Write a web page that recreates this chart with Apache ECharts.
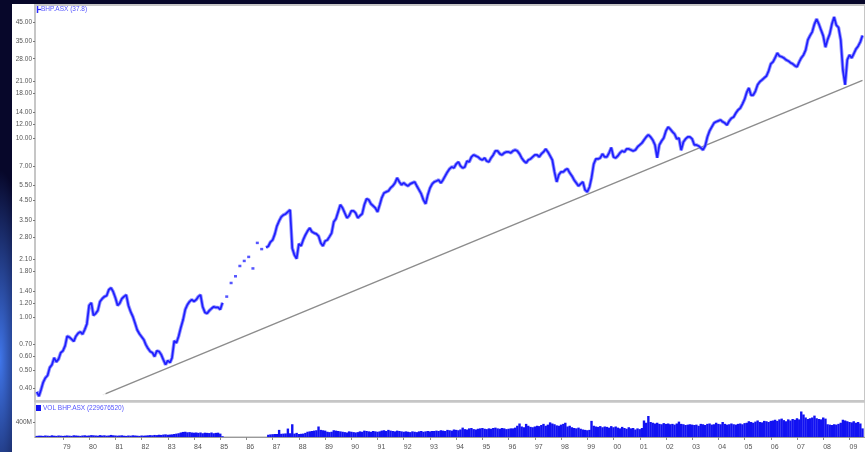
<!DOCTYPE html>
<html>
<head>
<meta charset="utf-8">
<script src="https://cdn.jsdelivr.net/npm/echarts@6/dist/echarts.min.js"></script>
<style>
  html, body { margin: 0; padding: 0; width: 865px; height: 452px; overflow: hidden; }
  body { background: #07072a; position: relative; }
  #glow { position: absolute; left: 0; top: 0; width: 865px; height: 452px;
    background: radial-gradient(ellipse 30px 190px at 0px 360px, rgba(70,130,255,0.9), rgba(7,7,42,0) 100%); }
  #panel { position: absolute; left: 12px; top: 4px; right: 0; bottom: 0; background: #ffffff; }
  #chart { position: absolute; left: 0; top: 0; width: 865px; height: 452px; }
</style>
</head>
<body>
<div id="glow"></div>
<div id="panel"></div>
<div id="chart"></div>
<script>
// Monthly series, first month January 1978
const firstYear = 1978;
const firstMonth = 0;

// Monthly closing prices (A$)
const closes = [
  0.38, 0.36,
  0.39, 0.43, 0.455, 0.47, 0.52, 0.54, 0.59, 0.56, 0.58, 0.63, 0.645, 0.69,
  0.78, 0.77, 0.75, 0.73, 0.78, 0.81, 0.825, 0.80, 0.85, 0.915, 1.16, 1.20,
  1.02, 1.045, 1.085, 1.22, 1.265, 1.30, 1.315, 1.42, 1.455, 1.385, 1.28, 1.16,
  1.19, 1.265, 1.30, 1.33, 1.16, 1.07, 1.005, 0.925, 0.845, 0.805, 0.775, 0.745,
  0.70, 0.665, 0.64, 0.63, 0.60, 0.645, 0.64, 0.615, 0.575, 0.54, 0.57, 0.555,
  0.59, 0.735, 0.715, 0.78, 0.87, 0.96, 1.10, 1.17, 1.22, 1.25, 1.22, 1.25,
  1.30, 1.33, 1.14, 1.06, 1.045, 1.085, 1.115, 1.14, 1.13, 1.13, 1.10, 1.20,
  null, 1.30, null, 1.55, null, 1.69, null, 1.93, null, 2.06, null, 2.17,
  null, 1.87, null, 2.60, null, 2.40, null, 2.45, 2.49, 2.63, 2.70, 2.92,
  3.23, 3.45, 3.64, 3.73, 3.78, 3.88, 3.98, 2.43, 2.22, 2.12, 2.57, 2.50,
  2.70, 2.88, 3.03, 3.15, 3.00, 2.95, 2.92, 2.84, 2.60, 2.50, 2.665, 2.70,
  2.81, 2.95, 3.41, 3.55, 3.88, 4.25, 4.08, 3.83, 3.59, 3.69, 3.93, 3.93,
  3.83, 3.59, 3.69, 3.78, 4.25, 4.59, 4.53, 4.30, 4.19, 4.08, 3.88, 4.25,
  4.65, 4.95, 5.02, 5.08, 5.28, 5.42, 5.64, 6.01, 5.71, 5.50, 5.64, 5.50,
  5.42, 5.57, 5.64, 5.71, 5.42, 5.15, 4.89, 4.53, 4.30, 4.83, 5.28, 5.57,
  5.71, 5.78, 5.86, 5.64, 5.86, 6.17, 6.50, 6.76, 6.93, 6.84, 7.20, 7.39,
  7.02, 6.84, 6.93, 7.48, 7.39, 7.88, 8.09, 7.99, 7.88, 7.68, 7.58, 7.78,
  7.48, 7.39, 7.78, 8.09, 8.52, 8.52, 8.20, 8.09, 8.31, 8.41, 8.41, 8.31,
  8.52, 8.63, 8.52, 8.20, 7.78, 7.48, 7.30, 7.58, 7.68, 7.88, 8.09, 8.09,
  7.88, 8.20, 8.41, 8.74, 8.41, 7.99, 7.58, 6.50, 5.71, 6.26, 6.50, 6.50,
  6.67, 6.76, 6.42, 6.17, 5.86, 5.64, 5.42, 5.57, 5.71, 5.15, 5.02, 5.35,
  6.01, 7.20, 7.68, 7.68, 7.78, 8.20, 7.88, 7.88, 8.31, 8.90, 7.88, 7.78,
  7.99, 8.31, 8.52, 8.41, 8.74, 8.74, 8.63, 8.52, 8.63, 8.97, 9.20, 9.44,
  9.81, 10.2, 10.48, 10.2, 9.81, 9.20, 7.80, 9.20, 9.68, 10.07, 11.03, 11.6,
  11.3, 10.9, 10.6, 9.94, 10.07, 8.60, 9.56, 9.94, 10.2, 10.2, 9.94, 9.20,
  9.20, 9.08, 8.86, 8.63, 9.08, 10.2, 11.03, 11.6, 12.2, 12.4, 12.55, 12.7,
  12.4, 12.2, 11.9, 12.55, 13.0, 13.2, 13.9, 14.45, 14.8, 15.6, 16.6, 18.2,
  19.2, 17.5, 17.5, 18.45, 20.0, 20.8, 21.3, 21.85, 22.4, 23.9, 26.2, 26.9,
  28.3, 30.1, 29.0, 28.7, 28.3, 27.6, 27.2, 26.6, 26.2, 25.6, 25.2, 26.9,
  28.3, 29.4, 31.3, 35.7, 37.7, 39.6, 43.8, 46.75, 43.8, 40.6, 37.6, 32.5,
  35.7, 38.6, 43.8, 48.0, 43.2, 41.9, 35.7, 24.2, 20.0, 27.6, 29.4, 28.3,
  29.8, 31.7, 32.9, 34.8, 37.8
];

// Monthly traded volume (millions of shares)
const volumes = [
  30, 35,
  35, 30, 40, 35, 30, 45, 35, 30, 40, 35, 30, 35,
  40, 35, 30, 45, 40, 35, 30, 40, 45, 35, 40, 50,
  45, 40, 35, 50, 40, 45, 35, 40, 55, 45, 40, 35,
  40, 45, 35, 30, 40, 35, 45, 40, 35, 30, 40, 35,
  40, 45, 50, 45, 55, 50, 60, 55, 65, 70, 60, 65,
  70, 80, 90, 100, 120, 135, 140, 125, 130, 120, 115, 120,
  110, 120, 100, 115, 110, 105, 120, 100, 110, 115, 90, 20,
  0, 0, 0, 0, 0, 0, 0, 0, 0, 0, 0, 0,
  0, 0, 0, 0, 0, 0, 0, 0, 60, 70, 75, 80,
  80, 190, 85, 90, 95, 225, 100, 340, 90, 110, 80, 85,
  90, 110, 140, 150, 160, 170, 180, 280, 190, 180, 170, 140,
  130, 140, 180, 170, 160, 150, 140, 130, 120, 150, 140, 130,
  120, 130, 150, 140, 170, 160, 150, 140, 160, 150, 140, 150,
  170, 180, 160, 190, 170, 160, 150, 170, 160, 150, 140, 150,
  140, 130, 150, 140, 130, 150, 160, 140, 150, 160, 150, 160,
  160, 170, 160, 180, 170, 160, 190, 180, 170, 200, 190, 180,
  200, 250, 210, 200, 230, 240, 210, 200, 220, 230, 240, 220,
  210, 230, 220, 240, 250, 230, 220, 240, 230, 210, 220, 230,
  230, 250, 300, 360, 280, 260, 350, 300, 270, 260, 280, 300,
  290, 320, 350, 300, 330, 390, 360, 340, 310, 300, 330, 350,
  380, 280, 300, 260, 240, 230, 250, 220, 200, 190, 180, 190,
  430, 300, 280, 270, 290, 260, 280, 270, 250, 290, 260, 280,
  250, 230, 270, 240, 220, 260, 230, 240, 200, 230, 210, 240,
  440, 380, 560, 400, 380, 360, 380, 350, 340, 370, 350, 360,
  340, 350, 330, 360, 410, 350, 340, 320, 330, 340, 330, 320,
  330, 300, 350, 340, 320, 350, 360, 330, 340, 380, 350, 340,
  400, 350, 330, 340, 360, 340, 330, 350, 360, 340, 370, 380,
  420, 400, 380, 410, 440, 400, 390, 430, 420, 400, 430, 440,
  460, 430, 470, 490, 450, 420, 470, 440, 480, 460, 500, 470,
  680, 600, 520, 480, 500, 520, 570, 500, 480, 470, 520, 490,
  340, 330, 320, 340, 330, 350, 380, 460, 440, 420, 400, 390,
  420, 380, 400, 360, 229.67652
];

// Price axis tick values and volume axis tick
const priceTicks = [45, 35, 28, 21, 18, 14, 12, 10, 7, 5.5, 4.5, 3.5, 2.8, 2.1, 1.8, 1.4, 1.2, 1.0, 0.7, 0.6, 0.5, 0.4];
const volumeTicks = [400];
// Year labels along the date axis
const years = [1979, 1980, 1981, 1982, 1983, 1984, 1985, 1986, 1987, 1988, 1989, 1990, 1991, 1992, 1993, 1994,
  1995, 1996, 1997, 1998, 1999, 2000, 2001, 2002, 2003, 2004, 2005, 2006, 2007, 2008, 2009];

// Long-term support line: start and end points (date, price)
const trendStart = ['1980-07-10', 0.366];
const trendEnd = ['2009-07-01', 21.2];

const t = (s) => { const p = s.split('-').map(Number); return new Date(p[0], p[1] - 1, p[2]).getTime(); };
const monthTime = (i) => new Date(firstYear, firstMonth + i, 1).getTime();

const priceData = closes.map((c, i) => [monthTime(i), c]);
const dotData = [];
closes.forEach((c, i) => {
  if (c !== null && (i === 0 || closes[i - 1] === null) && (i === closes.length - 1 || closes[i + 1] === null)) {
    dotData.push([monthTime(i), c]);
  }
});
const volumeData = volumes.map((v, i) => [monthTime(i), v]);
const yearTimes = years.map(y => new Date(y, 0, 1).getTime());

const lastClose = closes[closes.length - 1];
const lastVolume = Math.round(volumes[volumes.length - 1] * 1e6);

const font = 'Liberation Sans, Arial, sans-serif';
const axisMin = t('1977-12-08');
const axisMax = t('2009-08-05');

const chart = echarts.init(document.getElementById('chart'), null, { renderer: 'canvas' });
chart.setOption({
  animation: false,
  backgroundColor: 'transparent',
  grid: [
    { left: 35, top: 5, width: 832, height: 396, show: true, borderColor: '#c6c6c6', borderWidth: 2, backgroundColor: 'transparent' },
    { left: 35, top: 402, width: 832, height: 35, show: true, borderColor: '#c6c6c6', borderWidth: 1.5, backgroundColor: 'transparent' }
  ],
  xAxis: [
    { type: 'value', gridIndex: 0, min: axisMin, max: axisMax,
      axisLine: { show: false }, axisTick: { show: false }, axisLabel: { show: false }, splitLine: { show: false } },
    { type: 'value', gridIndex: 1, min: axisMin, max: axisMax,
      axisLine: { show: true, onZero: false, lineStyle: { color: '#9a9a9a', width: 1 } },
      axisTick: { show: true, length: 3, lineStyle: { color: '#8a8a8a' }, customValues: yearTimes },
      axisLabel: { show: true, customValues: yearTimes, fontSize: 7, color: '#555', fontFamily: font,
        align: 'left', margin: 7, showMinLabel: true, showMaxLabel: true,
        formatter: (v) => String(new Date(v).getFullYear() % 100).padStart(2, '0') },
      splitLine: { show: false } }
  ],
  yAxis: [
    { type: 'log', gridIndex: 0, min: 0.338, max: 56.0, logBase: 10,
      axisLine: { show: false },
      axisTick: { show: true, length: 2, customValues: priceTicks, lineStyle: { color: '#777' } },
      axisLabel: { show: true, customValues: priceTicks, fontSize: 6.5, color: '#555', fontFamily: font, margin: 3,
        formatter: (v) => Number(v).toFixed(2) },
      splitLine: { show: false } },
    { type: 'value', gridIndex: 1, min: 0, max: 933,
      axisLine: { show: false },
      axisTick: { show: true, length: 2, customValues: volumeTicks, lineStyle: { color: '#777' } },
      axisLabel: { show: true, customValues: volumeTicks, fontSize: 6.5, color: '#555', fontFamily: font, margin: 3,
        formatter: (v) => v + 'M' },
      splitLine: { show: false } }
  ],
  series: [
    { name: 'trend', type: 'line', xAxisIndex: 0, yAxisIndex: 0,
      data: [[t(trendStart[0]), trendStart[1]], [t(trendEnd[0]), trendEnd[1]]],
      lineStyle: { color: '#8c8c8c', width: 1.4 }, showSymbol: false, symbol: 'none', z: 2, silent: true },
    { name: 'trend start', type: 'scatter', xAxisIndex: 0, yAxisIndex: 0,
      data: [[t(trendStart[0]), trendStart[1]]],
      symbol: 'emptyCircle', symbolSize: 4, itemStyle: { color: '#fff', borderColor: '#666', borderWidth: 1 }, z: 4, silent: true },
    // wide pale band under the closing line for the weekly bar range
    { name: 'BHP.ASX range', type: 'line', xAxisIndex: 0, yAxisIndex: 0, data: priceData,
      connectNulls: false, showSymbol: false, symbol: 'none',
      lineStyle: { color: '#7878ff', width: 3.5, opacity: 0.8 }, z: 3, silent: true },
    { name: 'BHP.ASX', type: 'line', xAxisIndex: 0, yAxisIndex: 0, data: priceData,
      connectNulls: false, showSymbol: false, symbol: 'none',
      lineStyle: { color: '#1f1fff', width: 1.7 }, z: 4, silent: true },
    { name: 'BHP.ASX dots', type: 'scatter', xAxisIndex: 0, yAxisIndex: 0, data: dotData,
      symbol: 'rect', symbolSize: [3, 2.5], itemStyle: { color: '#2a2aff' }, z: 4, silent: true },
    { name: 'VOL BHP.ASX', type: 'bar', xAxisIndex: 1, yAxisIndex: 1, data: volumeData,
      barWidth: 2.4, itemStyle: { color: '#1212f2' }, z: 3, silent: true }
  ],
  graphic: [
    { type: 'line', shape: { x1: 37.5, y1: 6, x2: 37.5, y2: 13 }, style: { stroke: '#2a2aff', lineWidth: 1.5 } },
    { type: 'line', shape: { x1: 37.5, y1: 9.5, x2: 41, y2: 9.5 }, style: { stroke: '#2a2aff', lineWidth: 1.2 } },
    { type: 'text', x: 41, y: 9.5, style: { text: 'BHP.ASX (' + lastClose + ')', fontSize: 6.5, fontFamily: font,
      fill: '#5555ff', verticalAlign: 'middle' } },
    { type: 'rect', shape: { x: 36, y: 405, width: 5, height: 6 }, style: { fill: '#1212f2' } },
    { type: 'text', x: 43, y: 408.5, style: { text: 'VOL BHP.ASX (' + lastVolume + ')', fontSize: 6.5, fontFamily: font,
      fill: '#5555ff', verticalAlign: 'middle' } }
  ]
});
</script>
</body>
</html>
